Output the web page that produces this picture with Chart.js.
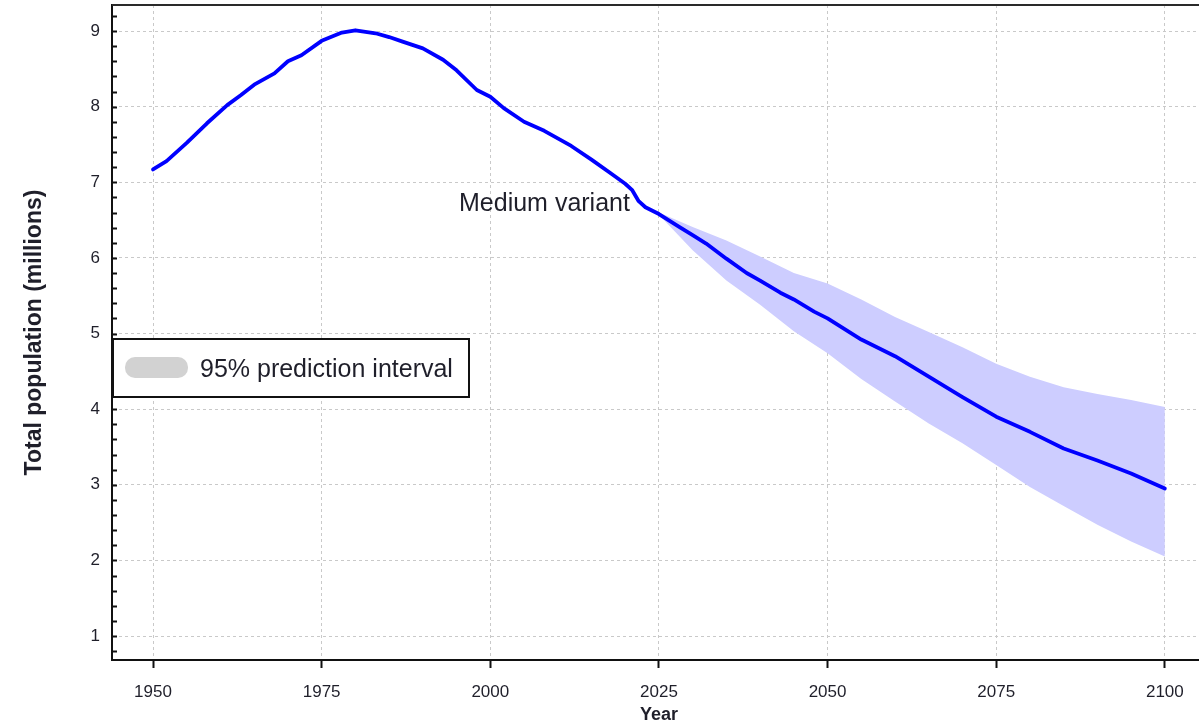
<!DOCTYPE html>
<html>
<head>
<meta charset="utf-8">
<title>Total population, 1950-2100</title>
<script src="https://cdn.jsdelivr.net/npm/chart.js@4/dist/chart.umd.min.js"></script>
<style>
  html, body { margin: 0; padding: 0; background: #ffffff; overflow: hidden; }
  #wrap { width: 1206px; height: 727px; }
</style>
</head>
<body>
<div id="wrap"><canvas id="c" width="1206" height="727"></canvas></div>
<script>
// Medium variant: estimates (1950-2023) and projection (to 2100), millions
const years = [1950, 1952, 1955, 1958, 1961, 1963, 1965, 1968, 1970, 1972, 1975, 1978, 1980, 1983, 1985, 1987,
               1990, 1993, 1995, 1998, 2000, 2002, 2005, 2008, 2010, 2012, 2015, 2018, 2020, 2021, 2022, 2023,
               2025, 2028, 2030, 2032, 2035, 2038, 2040, 2043, 2045, 2048, 2050, 2055, 2060, 2065, 2070, 2075,
               2080, 2085, 2090, 2095, 2100];
const medium = [7.17, 7.28, 7.52, 7.78, 8.02, 8.15, 8.29, 8.44, 8.60, 8.68, 8.87, 8.98, 9.01, 8.97, 8.92, 8.86,
                8.77, 8.62, 8.48, 8.22, 8.13, 7.98, 7.80, 7.68, 7.58, 7.48, 7.30, 7.11, 6.98, 6.90, 6.75, 6.67,
                6.58, 6.41, 6.30, 6.19, 5.99, 5.80, 5.70, 5.54, 5.45, 5.29, 5.20, 4.92, 4.70, 4.43, 4.16, 3.90,
                3.70, 3.48, 3.32, 3.15, 2.95];

// 95% prediction interval around the projection
const bandYears = [2025, 2030, 2035, 2040, 2045, 2050, 2055, 2060, 2065, 2070, 2075, 2080, 2085, 2090, 2095, 2100];
const upper95   = [6.60, 6.41, 6.23, 6.02, 5.80, 5.66, 5.45, 5.22, 5.02, 4.82, 4.60, 4.43, 4.29, 4.20, 4.12, 4.03];
const lower95   = [6.57, 6.10, 5.70, 5.38, 5.03, 4.74, 4.40, 4.10, 3.81, 3.55, 3.26, 2.97, 2.72, 2.47, 2.25, 2.05];

// Axis ticks
const xTickYears = [1950, 1975, 2000, 2025, 2050, 2075, 2100];
const yTickValues = [1, 2, 3, 4, 5, 6, 7, 8, 9];

const FONT = '"Liberation Sans", Arial, sans-serif';
const TEXT = '#1f1f2a';

const pts = (xs, ys) => xs.map((x, i) => ({ x: x, y: ys[i] }));

// Frame top edge, small inward ticks on the value axis, the text note and the legend box
const decorations = {
  id: 'decorations',
  afterDraw(chart) {
    const { ctx, chartArea: a, scales: { x, y } } = chart;
    ctx.save();

    // top edge of the frame
    ctx.strokeStyle = '#2a2a2a';
    ctx.lineWidth = 2;
    ctx.beginPath();
    ctx.moveTo(a.left, a.top);
    ctx.lineTo(a.right, a.top);
    ctx.stroke();

    // inward minor ticks every 0.2 on the value axis
    ctx.strokeStyle = '#111';
    ctx.lineWidth = 2;
    for (let k = 4; k <= 46; k++) {
      const py = Math.round(y.getPixelForValue(k / 5)) + 0.5;
      if (py < a.top + 2 || py > a.bottom - 2) continue;
      ctx.beginPath();
      ctx.moveTo(a.left, py);
      ctx.lineTo(a.left + 5, py);
      ctx.stroke();
    }

    // series note
    ctx.fillStyle = TEXT;
    ctx.font = '25px ' + FONT;
    ctx.textAlign = 'right';
    ctx.textBaseline = 'alphabetic';
    ctx.fillText('Medium variant', x.getPixelForValue(2020.7), y.getPixelForValue(6.62));

    // legend box
    const bx = a.left + 1, by = 339, bw = 356, bh = 58;
    ctx.fillStyle = '#ffffff';
    ctx.fillRect(bx, by, bw, bh);
    ctx.strokeStyle = '#111';
    ctx.lineWidth = 2;
    ctx.strokeRect(bx, by, bw, bh);
    ctx.fillStyle = '#d2d2d2';
    ctx.beginPath();
    ctx.roundRect(bx + 12, by + 18, 63, 21, 10);
    ctx.fill();
    ctx.fillStyle = TEXT;
    ctx.textAlign = 'left';
    ctx.font = '25px ' + FONT;
    ctx.fillText('95% prediction interval', bx + 87, by + 38);

    ctx.restore();
  }
};

new Chart(document.getElementById('c'), {
  type: 'line',
  data: {
    datasets: [
      {
        label: 'Medium variant',
        data: pts(years, medium),
        borderColor: '#0000ff',
        borderWidth: 3.8,
        borderJoinStyle: 'round',
        borderCapStyle: 'round',
        pointRadius: 0,
        fill: false,
        order: 0
      },
      {
        label: '95% upper',
        data: pts(bandYears, upper95),
        borderWidth: 0,
        borderColor: 'rgba(0,0,0,0)',
        backgroundColor: 'rgb(205,205,255)',
        pointRadius: 0,
        fill: '+1',
        order: 1
      },
      {
        label: '95% lower',
        data: pts(bandYears, lower95),
        borderWidth: 0,
        borderColor: 'rgba(0,0,0,0)',
        pointRadius: 0,
        fill: false,
        order: 2
      }
    ]
  },
  options: {
    responsive: false,
    animation: false,
    devicePixelRatio: 1,
    layout: { padding: { top: 5, left: 0, right: 0, bottom: 0 } },
    plugins: {
      legend: { display: false },
      tooltip: { enabled: false },
      title: { display: false }
    },
    scales: {
      x: {
        type: 'linear',
        min: 1943.92,
        max: 2106.1,
        afterBuildTicks(scale) { scale.ticks = xTickYears.map(v => ({ value: v })); },
        afterFit(scale) { scale.height = 67; scale.paddingLeft = 0; scale.paddingRight = 0; },
        grid: {
          color: '#c9c9c9',
          lineWidth: 1,
          drawTicks: true,
          tickLength: 8,
          tickColor: '#111',
          tickWidth: 2,
          tickBorderDash: []
        },
        border: { display: true, color: '#111', width: 2, dash: [3, 3] },
        ticks: {
          color: TEXT,
          font: { family: FONT, size: 17 },
          padding: 14,
          maxRotation: 0,
          callback: v => String(v)
        },
        title: {
          display: true,
          text: 'Year',
          color: TEXT,
          font: { family: FONT, size: 18, weight: 'bold' },
          padding: { top: 0, bottom: 1 }
        }
      },
      y: {
        type: 'linear',
        min: 0.683,
        max: 9.344,
        afterBuildTicks(scale) { scale.ticks = yTickValues.map(v => ({ value: v })); },
        afterFit(scale) { scale.width = 112; scale.paddingTop = 0; scale.paddingBottom = 0; },
        grid: {
          color: '#c9c9c9',
          lineWidth: 1,
          drawTicks: false
        },
        border: { display: true, color: '#111', width: 2, dash: [3, 3] },
        ticks: {
          color: TEXT,
          font: { family: FONT, size: 17 },
          padding: 12,
          callback: v => String(v)
        },
        title: {
          display: true,
          text: 'Total population (millions)',
          color: TEXT,
          font: { family: FONT, size: 23, weight: 'bold' },
          padding: { top: 21, bottom: 0 }
        }
      }
    }
  },
  plugins: [decorations]
});
</script>
</body>
</html>
